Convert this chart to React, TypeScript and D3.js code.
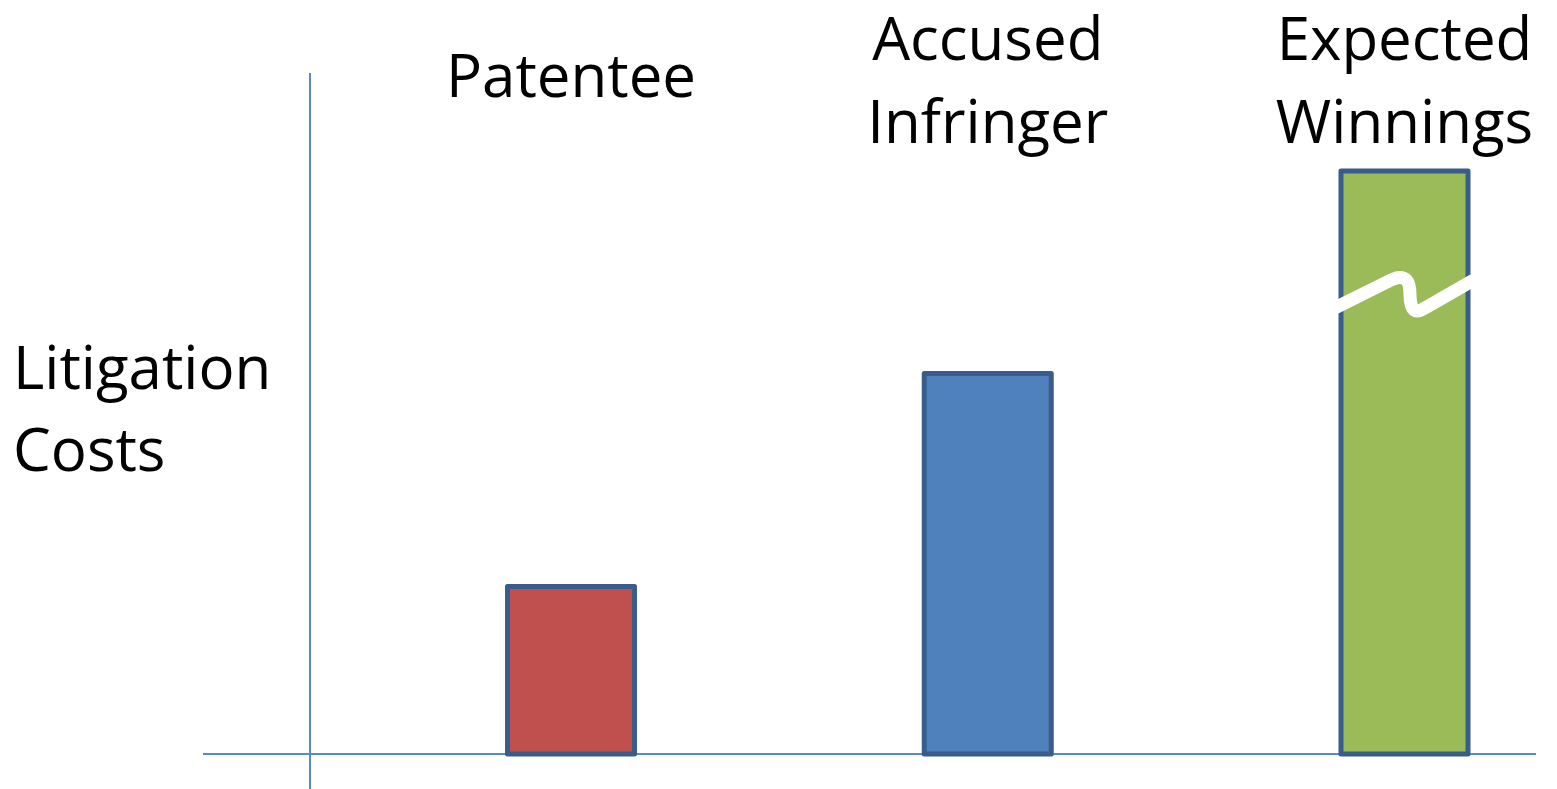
import React from "react";
import * as d3 from "d3";

// categories and bar values (arbitrary units)
const categories = ["Patentee", "Accused Infringer", "Expected Winnings"];
const labelLines = [["Patentee"], ["Accused", "Infringer"], ["Expected", "Winnings"]];
const values = [25, 56.8, 87];
const fills = ["#c0504d", "#4f81bd", "#9bbb59"];
// the last bar is drawn with a break mark (value not to scale)
const brokenIndex = 2;
const breakValue = 68.5;
const yTitle = ["Litigation", "Costs"];

const W = 1557;
const H = 789;
const FONT = "'Open Sans', 'Noto Sans', sans-serif";

export default function App() {
  const x = d3.scalePoint<string>().domain(categories).range([571, 1404.5]);
  const y = d3.scaleLinear().domain([0, 100]).range([754, 84]);
  const barW = 127;

  // break mark, relative to bar centre / break height
  const breakPath =
    "M -69 12.5 L -17.5 -13 C -10 -17 -3 -20 2 -15 C 5 -12 5.5 -6 5.5 0 C 5.5 7 7 16 13 16 C 16 16 18 14.5 22 12 L 69 -15";

  return (
    <svg
      width={W}
      height={H}
      style={{ position: "absolute", left: 0, top: 0, background: "#fff" }}
      fontFamily={FONT}
    >
      {/* axes */}
      <line x1={203} x2={1536} y1={y(0)} y2={y(0)} stroke="#5a8ac6" strokeWidth={2} />
      <line x1={310} x2={310} y1={73} y2={789} stroke="#5a8ac6" strokeWidth={2} />

      {/* bars */}
      {categories.map((c, i) => (
        <rect
          key={c}
          x={(x(c) as number) - barW / 2}
          y={y(values[i])}
          width={barW}
          height={y(0) - y(values[i])}
          fill={fills[i]}
          stroke="#385d8a"
          strokeWidth={5}
          strokeLinejoin="round"
        />
      ))}

      {/* break on the last bar */}
      <path
        d={breakPath}
        transform={`translate(${x(categories[brokenIndex])},${y(breakValue)})`}
        fill="none"
        stroke="#fff"
        strokeWidth={13}
      />

      {/* category labels */}
      {categories.map((c, i) => {
        const lines = labelLines[i];
        return (
          <text key={c} textAnchor="middle" fontSize={60} fill="#000">
            {lines.map((l, j) => (
              <tspan
                key={l}
                x={x(c) as number}
                y={lines.length === 1 ? 97 : 60 + j * 83}
              >
                {l}
              </tspan>
            ))}
          </text>
        );
      })}

      {/* y title */}
      <text fontSize={60} fill="#000">
        {yTitle.map((t, j) => (
          <tspan key={t} x={13} y={389 + j * 82}>
            {t}
          </tspan>
        ))}
      </text>
    </svg>
  );
}
